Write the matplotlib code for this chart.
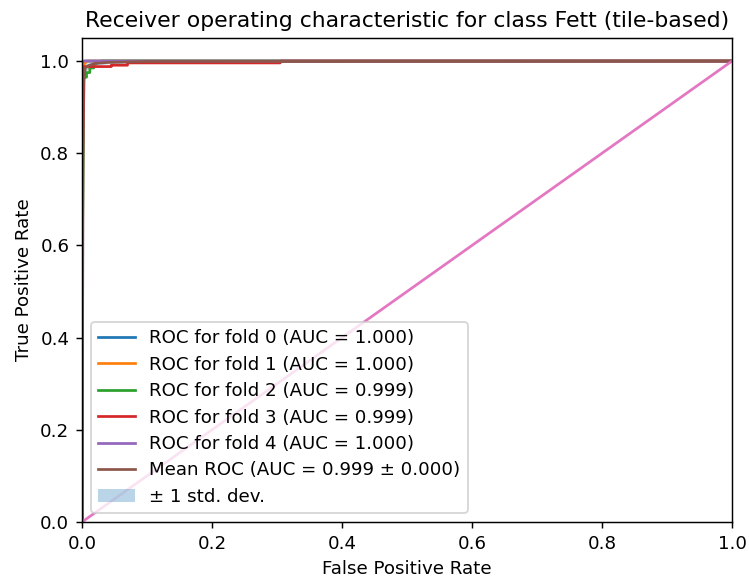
import matplotlib
matplotlib.use("Agg")
import matplotlib.pyplot as plt
import numpy as np

# Fold ROC curves
fold_labels = ["ROC for fold 0 (AUC = 1.000)", "ROC for fold 1 (AUC = 1.000)",
               "ROC for fold 2 (AUC = 0.999)", "ROC for fold 3 (AUC = 0.999)",
               "ROC for fold 4 (AUC = 1.000)"]
fold0_fpr = [0.0, 0.0, 0.0, 0.002, 0.004, 1.0]
fold0_tpr = [0.0, 0.6, 0.99, 0.995, 1.0, 1.0]
fold1_fpr = [0.0, 0.0, 0.0, 0.003, 0.008, 1.0]
fold1_tpr = [0.0, 0.7, 0.985, 0.993, 1.0, 1.0]
fold2_fpr = [0.0, 0.0, 0.002, 0.002, 0.007, 0.007, 0.012, 0.012, 0.018, 0.018, 0.03, 1.0]
fold2_tpr = [0.0, 0.5, 0.82, 0.965, 0.965, 0.975, 0.975, 0.985, 0.985, 0.992, 1.0, 1.0]
fold3_fpr = [0.0, 0.0, 0.003, 0.003, 0.045, 0.045, 0.07, 0.07, 0.305, 0.305, 1.0]
fold3_tpr = [0.0, 0.7, 0.95, 0.988, 0.988, 0.991, 0.991, 0.996, 0.996, 1.0, 1.0]
fold4_fpr = [0.0, 0.0, 0.0, 0.002, 1.0]
fold4_tpr = [0.0, 0.8, 0.997, 1.0, 1.0]

mean_fpr = [0.0, 0.0, 0.002, 0.005, 0.01, 0.02, 0.04, 0.1, 1.0]
mean_tpr = [0.0, 0.0, 0.95, 0.985, 0.99, 0.995, 0.997, 0.999, 1.0]
mean_std = [0.0, 0.0, 0.03, 0.01, 0.006, 0.004, 0.003, 0.001, 0.0]
mean_label = "Mean ROC (AUC = 0.999 \u00b1 0.000)"
std_label = "\u00b1 1 std. dev."

chance_x = [0.0, 1.0]
chance_y = [0.0, 1.0]

fig = plt.figure(figsize=(749 / 131, 578 / 131), dpi=131)
ax = fig.add_axes([82 / 749, 1 - 522 / 578, 650 / 749, 484 / 578])

folds = [(fold0_fpr, fold0_tpr), (fold1_fpr, fold1_tpr), (fold2_fpr, fold2_tpr),
         (fold3_fpr, fold3_tpr), (fold4_fpr, fold4_tpr)]
for i, (f, t) in enumerate(folds):
    ax.plot(f, t, color=f"C{i}", lw=1.5, label=fold_labels[i])

ax.plot(mean_fpr, mean_tpr, color="C5", lw=1.5, label=mean_label)
ax.plot(chance_x, chance_y, color="C6", lw=1.5)
mt = np.array(mean_tpr)
ms = np.array(mean_std)
ax.fill_between(mean_fpr, np.maximum(mt - ms, 0), np.minimum(mt + ms, 1),
                color="C0", alpha=0.3, label=std_label, lw=0)

ax.set_xlim(0, 1.0)
ax.set_ylim(0, 1.05)
ax.set_xlabel("False Positive Rate")
ax.set_ylabel("True Positive Rate")
ax.set_title("Receiver operating characteristic for class Fett (tile-based)")
ax.legend(loc="lower left", labelspacing=0.46)

fig.savefig("out.png", dpi=131)
